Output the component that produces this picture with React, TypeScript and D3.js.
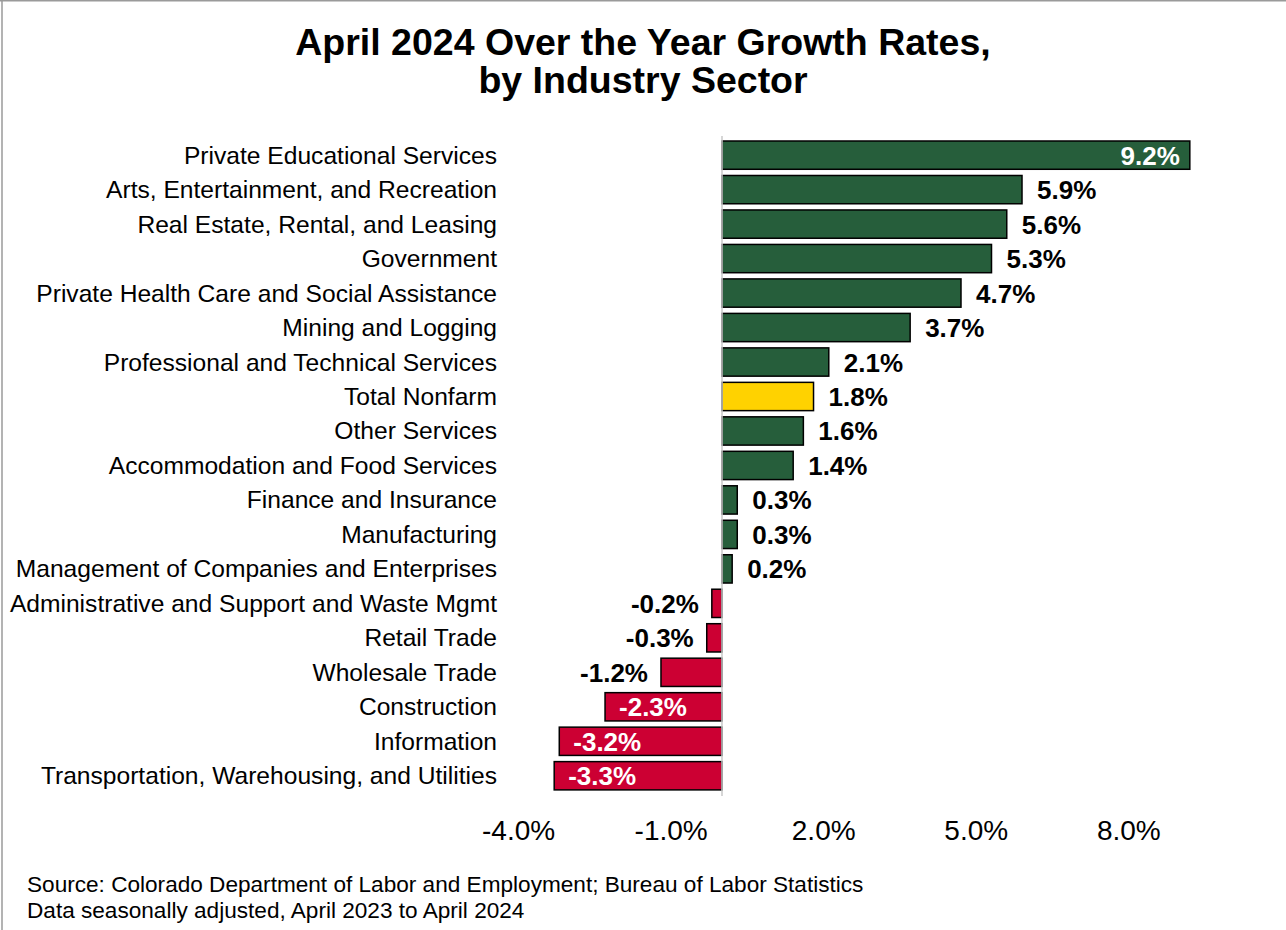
import React from "react";
import * as d3 from "d3";

const categories = [
  "Private Educational Services",
  "Arts, Entertainment, and Recreation",
  "Real Estate, Rental, and Leasing",
  "Government",
  "Private Health Care and Social Assistance",
  "Mining and Logging",
  "Professional and Technical Services",
  "Total Nonfarm",
  "Other Services",
  "Accommodation and Food Services",
  "Finance and Insurance",
  "Manufacturing",
  "Management of Companies and Enterprises",
  "Administrative and Support and Waste Mgmt",
  "Retail Trade",
  "Wholesale Trade",
  "Construction",
  "Information",
  "Transportation, Warehousing, and Utilities",
];
const values = [9.2, 5.9, 5.6, 5.3, 4.7, 3.7, 2.1, 1.8, 1.6, 1.4, 0.3, 0.3, 0.2, -0.2, -0.3, -1.2, -2.3, -3.2, -3.3];
const tickValues = [-4, -1, 2, 5, 8];
const totalLabel = "Total Nonfarm";

const W = 1286;
const H = 930;
const FONT = "Arial, 'Liberation Sans', sans-serif";

export default function App() {
  const x = d3.scaleLinear().domain([-4, 10]).range([518.6, 518.6 + 14 * 50.85]);
  const y = d3.scaleBand<string>().domain(categories).range([134.8, 796.1]).padding(0.18);
  const fmt = (v: number) => v.toFixed(1) + "%";
  const x0 = x(0);
  const labelW = (s: string) => s.length * 15;

  return (
    <svg width={W} height={H} style={{ position: "absolute", left: 0, top: 0, background: "#fff" }}>
      <rect x={0} y={0} width={W} height={H} fill="#fff" />
      <line x1={2} y1={0} x2={2} y2={H} stroke="#9a9a9a" strokeWidth={1.5} />
      <line x1={0} y1={0.75} x2={W} y2={0.75} stroke="#9a9a9a" strokeWidth={1.5} />
      <text x={643} y={55} textAnchor="middle" fontFamily={FONT} fontWeight="bold" fontSize={37.5} fill="#000">
        April 2024 Over the Year Growth Rates,
      </text>
      <text x={643} y={93} textAnchor="middle" fontFamily={FONT} fontWeight="bold" fontSize={37.5} fill="#000">
        by Industry Sector
      </text>
      {categories.map((c, i) => {
        const v = values[i];
        const bx = Math.min(x(v), x0);
        const bw = Math.abs(x(v) - x0);
        const by = y(c)!;
        const bh = y.bandwidth();
        const fill = c === totalLabel ? "#FFD200" : v >= 0 ? "#265E3B" : "#CC0033";
        const lab = fmt(v);
        const lw = labelW(lab);
        let inside = false;
        if (v >= 0) inside = x(v) + 13 + lw > 1240;
        else inside = x(v) - 13 - lw < 560;
        let lx: number;
        let anchor: "start" | "end";
        if (v >= 0) {
          lx = inside ? x(v) - 10 : x(v) + 15;
          anchor = inside ? "end" : "start";
        } else {
          lx = inside ? x(v) + 14 : x(v) - 13;
          anchor = inside ? "start" : "end";
        }
        return (
          <g key={c}>
            <rect x={bx} y={by} width={bw} height={bh} fill={fill} stroke="#000" strokeWidth={1.5} />
            <text x={497} y={by + bh / 2 + 8.5} textAnchor="end" fontFamily={FONT} fontSize={24.6} fill="#000">
              {c}
            </text>
            <text
              x={lx}
              y={by + bh / 2 + 9.5}
              textAnchor={anchor}
              fontFamily={FONT}
              fontWeight="bold"
              fontSize={26}
              fill={inside ? "#fff" : "#000"}
            >
              {lab}
            </text>
          </g>
        );
      })}
      <line x1={x0} y1={136} x2={x0} y2={796} stroke="#c8c8c8" strokeWidth={1.5} />
      {tickValues.map((t) => (
        <text key={t} x={x(t)} y={840} textAnchor="middle" fontFamily={FONT} fontSize={28} fill="#000">
          {fmt(t)}
        </text>
      ))}
      <text x={27} y={892} fontFamily={FONT} fontSize={22.6} fill="#000">
        Source: Colorado Department of Labor and Employment; Bureau of Labor Statistics
      </text>
      <text x={27} y={918} fontFamily={FONT} fontSize={22.6} fill="#000">
        Data seasonally adjusted, April 2023 to April 2024
      </text>
    </svg>
  );
}
